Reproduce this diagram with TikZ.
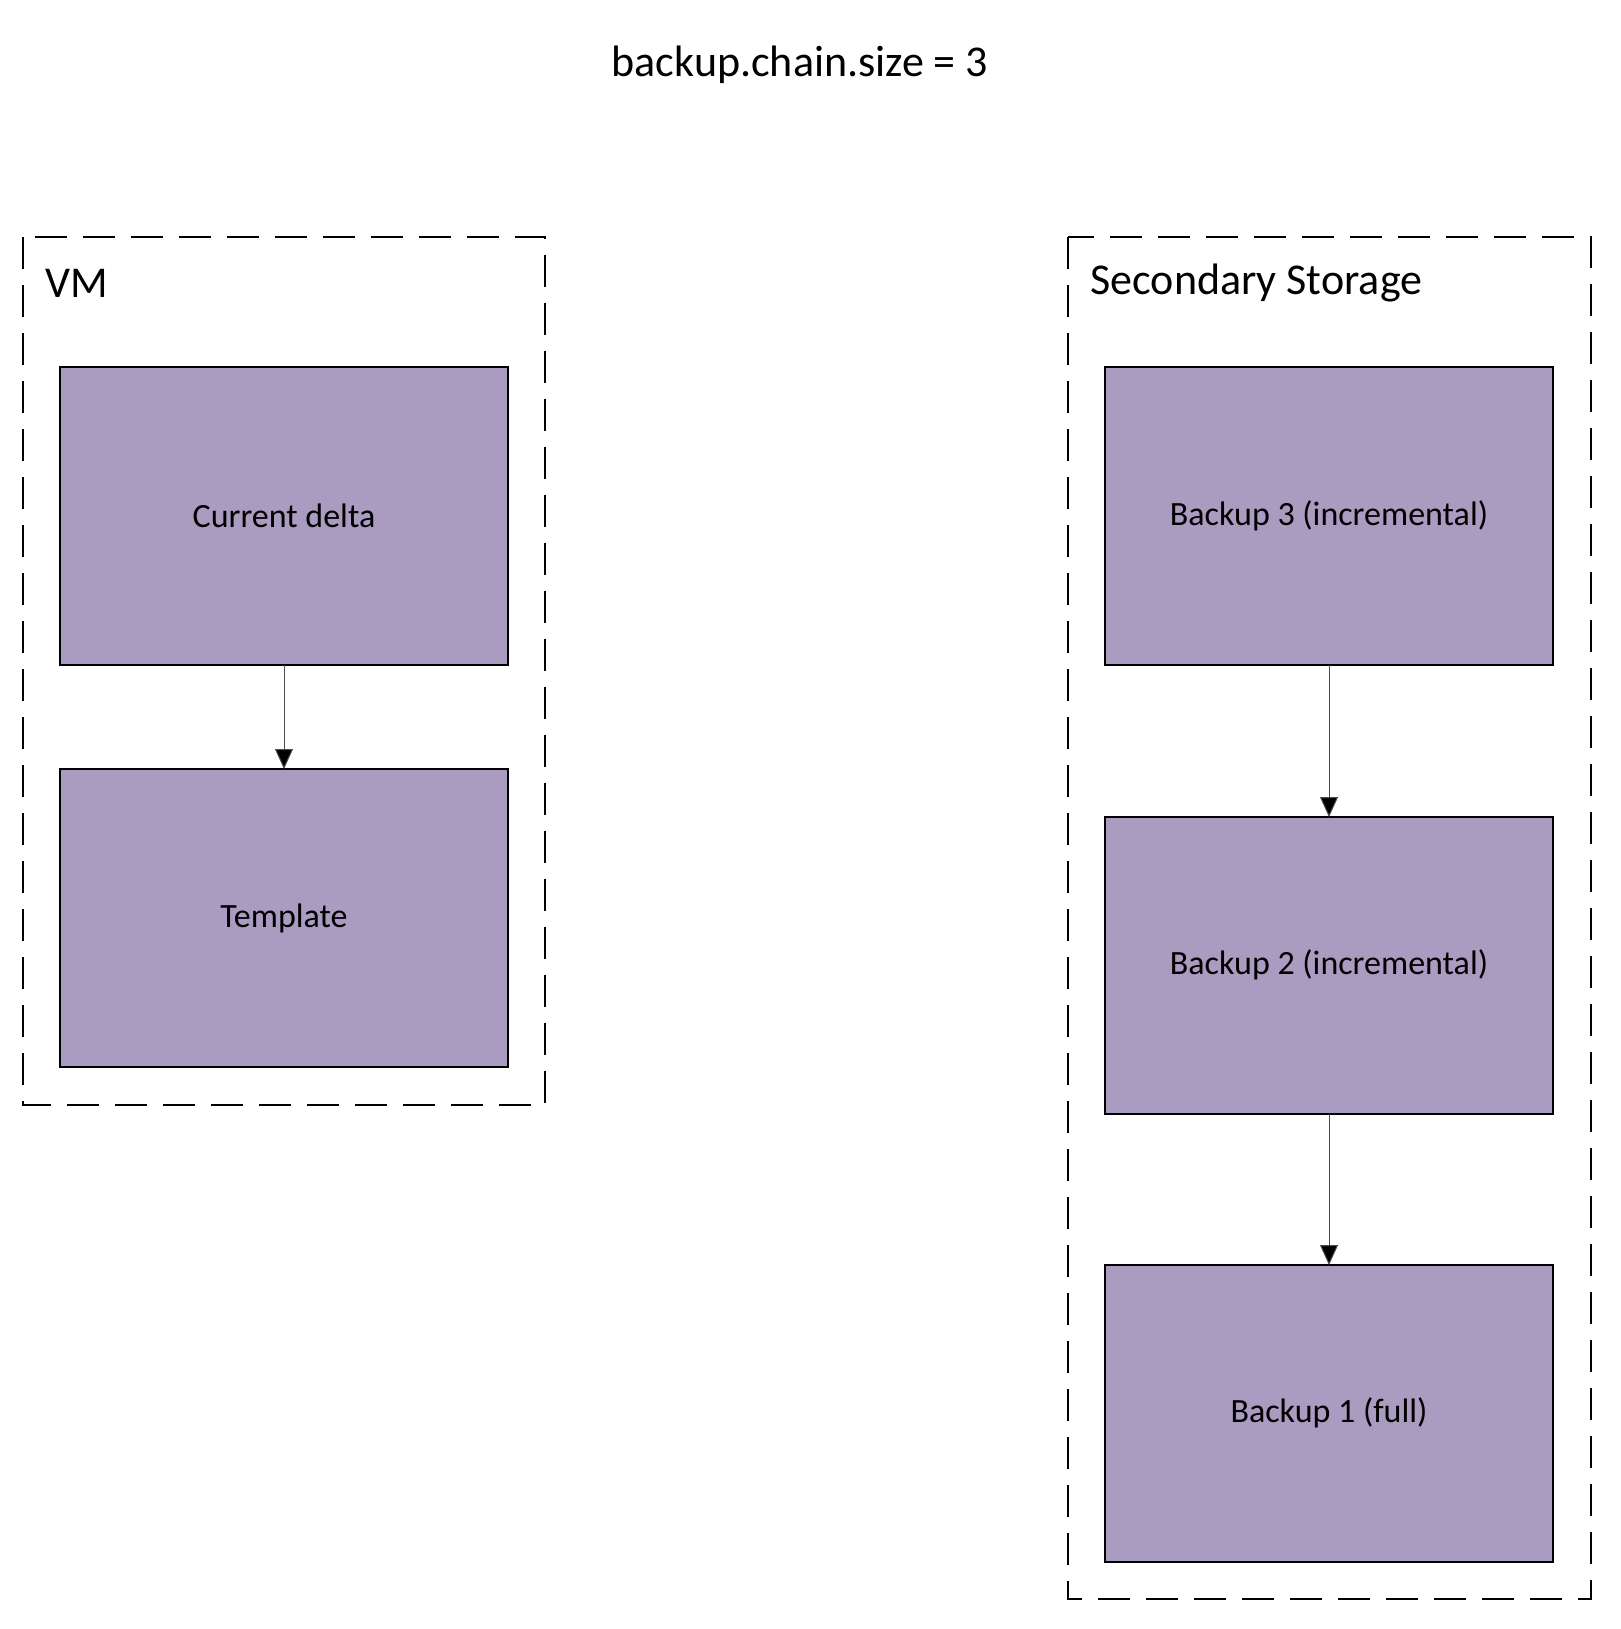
\documentclass[tikz,border=0pt]{standalone}
\usepackage{fontspec}
\setmainfont{Carlito}
\usetikzlibrary{arrows.meta}
\definecolor{boxfill}{HTML}{AA9BC0}
\tikzset{
 grp/.style={draw, line width=2.5pt, dash pattern=on 32pt off 16pt},
 blk/.style={draw, line width=2pt, fill=boxfill},
 lbl/.style={font=\fontsize{34}{40}\selectfont},
 arr/.style={draw=black!70, line width=1pt, -{Triangle[length=20pt,width=18pt,fill=black]}}
}
\begin{document}
\begin{tikzpicture}[x=1pt,y=-1pt]
\useasboundingbox (0,0) rectangle (1620,1629);
\node[font=\fontsize{44}{52}\selectfont] (title) at (800,65) {backup.chain.size = 3};
\draw[grp] (23,237) rectangle (545,1105);
\node[anchor=west,font=\fontsize{44}{52}\selectfont] (vm) at (42,283) {VM};
\draw[grp] (1068,237) rectangle (1591,1599);
\node[anchor=west,font=\fontsize{44}{52}\selectfont] (ss) at (1087,283) {Secondary Storage};
\path[blk] (60,367) rectangle (508,665); \node[lbl] (cd) at (284,516) {Current delta};
\coordinate (cdb) at (284,665);
\path[blk] (60,769) rectangle (508,1067); \node[lbl] (tp) at (284,918) {Template};
\coordinate (tpt) at (284,769);
\path[blk] (1105,367) rectangle (1553,665); \node[lbl] (b3) at (1329,516) {Backup 3 (incremental)};
\path[blk] (1105,817) rectangle (1553,1114); \node[lbl] (b2) at (1329,965) {Backup 2 (incremental)};
\path[blk] (1105,1265) rectangle (1553,1562); \node[lbl] (b1) at (1329,1413) {Backup 1 (full)};
\coordinate (b3b) at (1329,665); \coordinate (b2t) at (1329,817);
\coordinate (b2b) at (1329,1114); \coordinate (b1t) at (1329,1265);
\draw[arr] (cdb) -- (tpt);
\draw[arr] (b3b) -- (b2t);
\draw[arr] (b2b) -- (b1t);
\end{tikzpicture}
\end{document}
